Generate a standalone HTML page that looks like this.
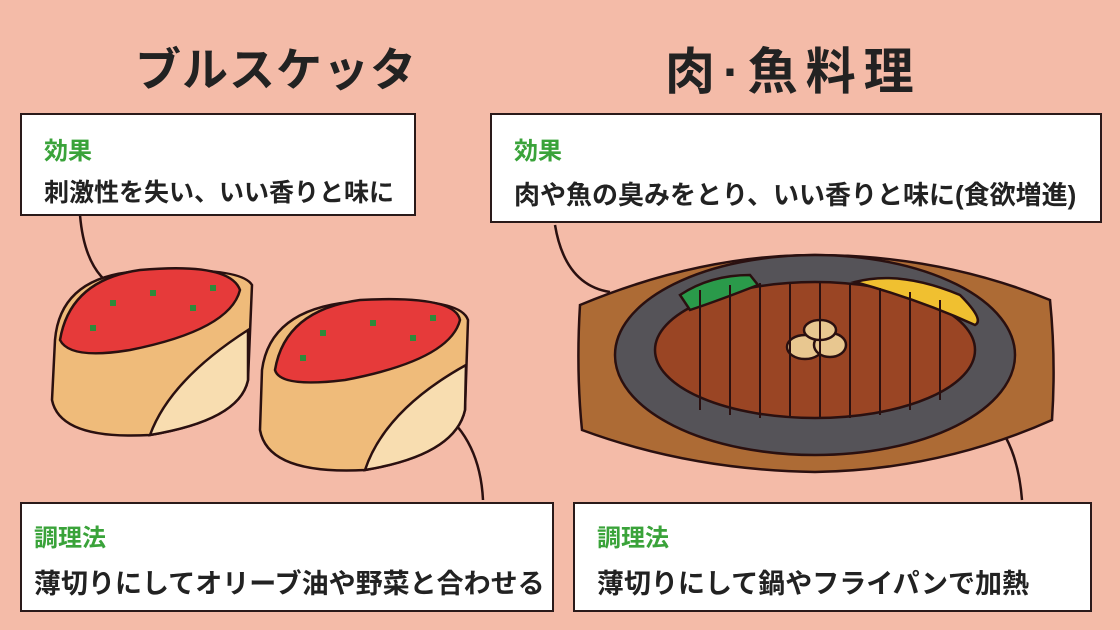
<!DOCTYPE html><html><head><meta charset="utf-8"><style>
body{margin:0;width:1120px;height:630px;overflow:hidden;background:#f4bba8;font-family:"Liberation Sans","Noto Sans CJK JP",sans-serif}
svg{position:absolute;left:0;top:0}
.t{position:absolute;font-weight:bold;color:#222;white-space:nowrap}
.box{position:absolute;background:#fff;border:2px solid #2a1a1a;box-sizing:border-box}
.g{position:absolute;color:#3aa33a;font-weight:bold;font-size:24px}
.b{position:absolute;color:#222;font-size:27px;font-weight:bold;white-space:nowrap}
</style></head><body>
<svg width="1120" height="630" viewBox="0 0 1120 630">
<g stroke="#2a1010" stroke-width="2.5" fill="none">
<path d="M80 215 Q85 275 120 290"/><path d="M555 225 Q565 285 610 292"/>
<path d="M440 410 Q480 440 483 500"/><path d="M950 395 Q1015 410 1022 500"/>
</g>
<g stroke="#2a1010" stroke-width="2.5">
<path d="M55 340 Q60 280 130 272 Q240 265 252 285 L248 380 Q240 420 150 435 Q60 440 52 400 Z" fill="#efbb7a"/>
<path d="M150 435 Q170 380 248 330 L248 380 Q240 420 150 435Z" fill="#f8ddb0"/>
<path d="M60 340 Q70 280 140 270 Q230 262 240 290 Q230 330 130 350 Q70 360 60 340Z" fill="#e63a3a"/>
<path d="M262 370 Q270 310 350 302 Q460 295 468 320 L465 410 Q455 455 365 470 Q268 475 260 430 Z" fill="#efbb7a"/>
<path d="M365 470 Q385 410 466 365 L465 410 Q455 455 365 470Z" fill="#f8ddb0"/>
<path d="M275 370 Q285 310 360 300 Q455 295 460 320 Q450 360 345 380 Q280 388 275 370Z" fill="#e63a3a"/>
</g>
<g fill="#2e8a3a"><rect x="110" y="300" width="6" height="6"/><rect x="150" y="290" width="6" height="6"/><rect x="190" y="305" width="6" height="6"/><rect x="90" y="325" width="6" height="6"/><rect x="210" y="285" width="6" height="6"/>
<rect x="320" y="330" width="6" height="6"/><rect x="370" y="320" width="6" height="6"/><rect x="410" y="335" width="6" height="6"/><rect x="300" y="355" width="6" height="6"/><rect x="430" y="315" width="6" height="6"/></g>
<g stroke="#2a1010" stroke-width="2.5">
<path d="M580 305 Q700 255 815 255 Q940 255 1050 300 Q1056 360 1052 420 Q940 470 815 472 Q690 470 582 430 Q576 370 580 305 Z" fill="#ad6b35"/>
<ellipse cx="815" cy="355" rx="200" ry="100" fill="#555358"/>
<ellipse cx="815" cy="350" rx="160" ry="68" fill="#9a4524"/>
<path d="M680 295 Q710 275 750 275 L758 285 Q720 300 690 310Z" fill="#2a9a4a"/>
<path d="M855 282 Q900 270 960 295 Q985 320 975 325 Q920 300 855 282Z" fill="#f0c030"/>
<g fill="#e8c790"><ellipse cx="805" cy="347" rx="18" ry="12"/><ellipse cx="830" cy="345" rx="16" ry="12"/><ellipse cx="820" cy="330" rx="16" ry="10"/></g>
</g>
<g stroke="#2a1010" stroke-width="2"><path d="M700 290V410M730 285V415M760 283V418M790 283V418M820 283V418M850 285V418M880 288V415M910 292V410M940 300V400"/></g>
</svg>
<div class="t" style="left:135px;top:34px;font-size:46px;letter-spacing:1px">ブルスケッタ</div>
<div class="t" style="left:665px;top:32px;font-size:50px;letter-spacing:8px">肉·魚料理</div>
<div class="box" style="left:20px;top:113px;width:396px;height:103px"><div class="g" style="left:22px;top:16px">効果</div><div class="b" style="left:22px;top:58px;font-size:25px">刺激性を失い、いい香りと味に</div></div>
<div class="box" style="left:490px;top:113px;width:612px;height:110px"><div class="g" style="left:22px;top:16px">効果</div><div class="b" style="left:22px;top:60px;font-size:26px">肉や魚の臭みをとり、いい香りと味に(食欲増進)</div></div>
<div class="box" style="left:20px;top:502px;width:534px;height:110px"><div class="g" style="left:12px;top:14px">調理法</div><div class="b" style="left:12px;top:58px">薄切りにしてオリーブ油や野菜と合わせる</div></div>
<div class="box" style="left:573px;top:502px;width:519px;height:110px"><div class="g" style="left:22px;top:14px">調理法</div><div class="b" style="left:22px;top:58px">薄切りにして鍋やフライパンで加熱</div></div>
</body></html>
